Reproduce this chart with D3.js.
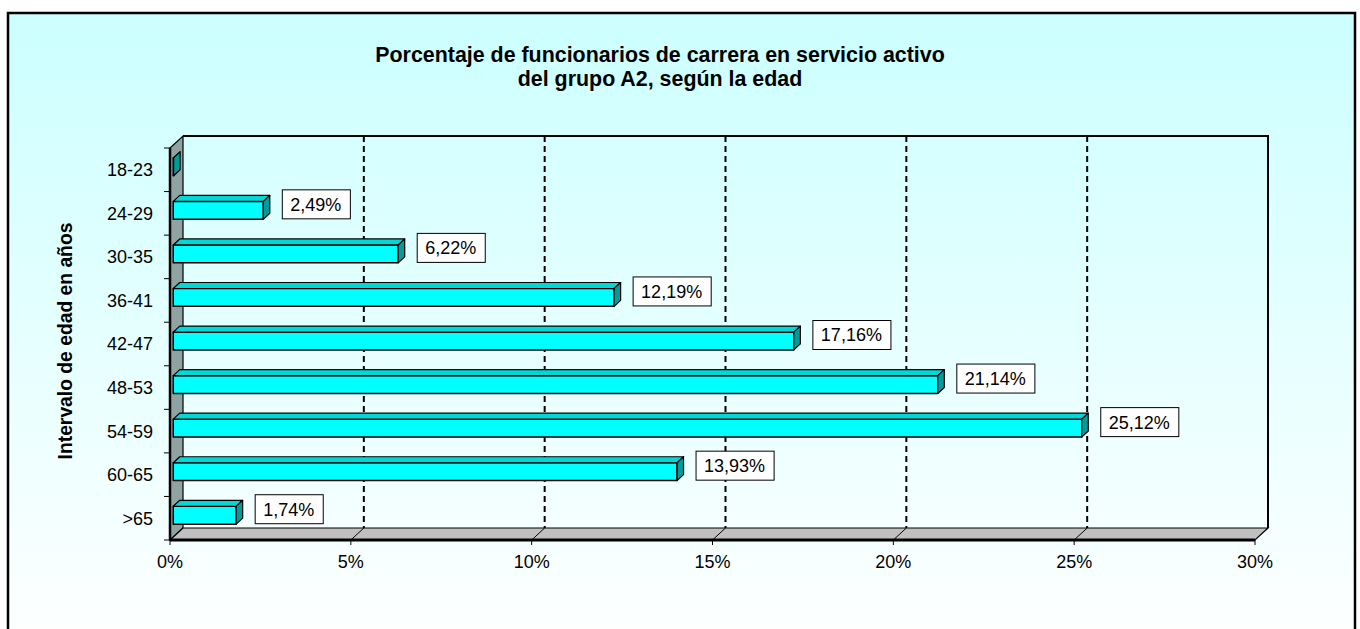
<!DOCTYPE html>
<html>
<head>
<meta charset="utf-8">
<script src="https://cdn.jsdelivr.net/npm/d3@7"></script>
<style>
  html, body { margin: 0; padding: 0; background: #fff; }
  svg { display: block; font-family: Arial, "Liberation Sans", sans-serif; }
</style>
</head>
<body>
<svg id="chart" width="1360" height="629"></svg>
<script>
// ── Data ──────────────────────────────────────────────────────────────────
const categories = ['18-23', '24-29', '30-35', '36-41', '42-47', '48-53', '54-59', '60-65', '>65'];
const values     = [0.01, 2.49, 6.22, 12.19, 17.16, 21.14, 25.12, 13.93, 1.74];
const xTicks     = [0, 5, 10, 15, 20, 25, 30];
const titleLines = ['Porcentaje de funcionarios de carrera en servicio activo', 'del grupo A2, según la edad'];
const yTitle     = 'Intervalo de edad en años';

// ── Setup ─────────────────────────────────────────────────────────────────
const W = 1360, H = 629;
const svg = d3.select('#chart');

const esLocale = d3.formatLocale({ decimal: ',', thousands: '.', grouping: [3], currency: ['', '€'] });
const fmt = v => esLocale.format('.2f')(v) + '%';

// 3D depth offset of the plot box (front -> back)
const DX = 13, DY = -12;
const proj = (x, y, z) => [x + z * DX, y + z * DY];

const x = d3.scaleLinear().domain([0, 30]).range([170, 1255]);
const y = d3.scaleBand().domain(categories).range([148, 540]).padding(0);
const barH = y.bandwidth() * 0.41;
const z0 = 0.25, z1 = 0.75; // bar depth inside the box

// background gradient
const defs = svg.append('defs');
const grad = defs.append('linearGradient').attr('id', 'bg').attr('x1', 0).attr('y1', 0).attr('x2', 0).attr('y2', 1);
grad.append('stop').attr('offset', 0).attr('stop-color', '#ccffff');
grad.append('stop').attr('offset', 1).attr('stop-color', '#ffffff');

svg.append('rect')
  .attr('x', 8).attr('y', 13).attr('width', 1347).attr('height', 640)
  .attr('fill', 'url(#bg)').attr('stroke', '#000').attr('stroke-width', 2.5);

// ── Title ─────────────────────────────────────────────────────────────────
svg.append('text')
  .attr('x', 660).attr('y', 62)
  .attr('text-anchor', 'middle')
  .attr('font-weight', 'bold').attr('font-size', '21.4px')
  .selectAll('tspan').data(titleLines).join('tspan')
  .attr('x', 660).attr('dy', (d, i) => i ? 24 : 0)
  .text(d => d);

// ── 3D box ────────────────────────────────────────────────────────────────
const [xL, xR] = x.range();
const [yT, yB] = y.range();
const line = d3.line();

// left wall
svg.append('path')
  .attr('d', line([proj(xL, yT, 0), proj(xL, yT, 1), proj(xL, yB, 1), proj(xL, yB, 0)]) + 'Z')
  .attr('fill', '#8fa3a3').attr('stroke', '#000').attr('stroke-width', 1.2);
svg.append('line')
  .attr('x1', xL).attr('y1', yT).attr('x2', xL).attr('y2', yB)
  .attr('stroke', '#000').attr('stroke-width', 2.5);

// back wall outline (top + right)
svg.append('path')
  .attr('d', line([proj(xL, yT, 1), proj(xR, yT, 1), proj(xR, yB, 1)]))
  .attr('fill', 'none').attr('stroke', '#000').attr('stroke-width', 2);

// dashed gridlines on the back wall
svg.append('g').selectAll('line')
  .data(xTicks.filter(t => t > 0 && t < 30)).join('line')
  .attr('x1', d => proj(x(d), yT, 1)[0]).attr('y1', proj(0, yT, 1)[1])
  .attr('x2', d => proj(x(d), yB, 1)[0]).attr('y2', proj(0, yB, 1)[1])
  .attr('stroke', '#000').attr('stroke-width', 2).attr('stroke-dasharray', '6,4');

// floor
svg.append('path')
  .attr('d', line([proj(xL, yB, 0), proj(xR, yB, 0), proj(xR, yB, 1), proj(xL, yB, 1)]) + 'Z')
  .attr('fill', '#c0c0c0').attr('stroke', '#000').attr('stroke-width', 1.2);
svg.append('g').selectAll('line')
  .data(xTicks.filter(t => t > 0 && t < 30)).join('line')
  .attr('x1', d => x(d)).attr('y1', yB)
  .attr('x2', d => proj(x(d), yB, 1)[0]).attr('y2', proj(0, yB, 1)[1])
  .attr('stroke', '#000').attr('stroke-width', 1);
svg.append('line')
  .attr('x1', xL).attr('y1', yB).attr('x2', xR).attr('y2', yB)
  .attr('stroke', '#000').attr('stroke-width', 3);

// ── Axes ──────────────────────────────────────────────────────────────────
const xAxis = svg.append('g');
xAxis.selectAll('line').data(xTicks).join('line')
  .attr('x1', d => x(d)).attr('x2', d => x(d))
  .attr('y1', yB).attr('y2', yB + 5)
  .attr('stroke', '#000').attr('stroke-width', 1);
xAxis.selectAll('text').data(xTicks).join('text')
  .attr('x', d => x(d)).attr('y', yB + 28)
  .attr('text-anchor', 'middle').attr('font-size', '18px')
  .text(d => d + '%');

const yAxis = svg.append('g');
yAxis.selectAll('line').data(d3.range(categories.length + 1)).join('line')
  .attr('x1', xL - 6).attr('x2', xL)
  .attr('y1', i => yT + i * y.bandwidth()).attr('y2', i => yT + i * y.bandwidth())
  .attr('stroke', '#000').attr('stroke-width', 1);
yAxis.selectAll('text').data(categories).join('text')
  .attr('x', 153).attr('y', d => y(d) + y.bandwidth() / 2)
  .attr('dy', '0.36em')
  .attr('text-anchor', 'end').attr('font-size', '18px')
  .text(d => d);

svg.append('text')
  .attr('transform', 'translate(72,341) rotate(-90)')
  .attr('text-anchor', 'middle')
  .attr('font-weight', 'bold').attr('font-size', '19.3px')
  .text(yTitle);

// ── Bars ──────────────────────────────────────────────────────────────────
const rows = categories.map((c, i) => ({ cat: c, v: values[i] }));
const bars = svg.append('g').selectAll('g').data(rows).join('g');

function barFaces(d) {
  const cy = y(d.cat) + y.bandwidth() / 2;
  const top = cy - barH / 2, bot = cy + barH / 2;
  const xa = x(0), xb = x(d.v);
  return {
    front: [proj(xa, top, z0), proj(xb, top, z0), proj(xb, bot, z0), proj(xa, bot, z0)],
    top:   [proj(xa, top, z0), proj(xb, top, z0), proj(xb, top, z1), proj(xa, top, z1)],
    right: [proj(xb, top, z0), proj(xb, top, z1), proj(xb, bot, z1), proj(xb, bot, z0)]
  };
}

bars.append('path').attr('d', d => line(barFaces(d).front) + 'Z')
  .attr('fill', '#00ffff').attr('stroke', '#000').attr('stroke-width', 1.5).attr('stroke-linejoin', 'round');
bars.append('path').attr('d', d => line(barFaces(d).top) + 'Z')
  .attr('fill', '#00d8d8').attr('stroke', '#000').attr('stroke-width', 1.2).attr('stroke-linejoin', 'round');
bars.append('path').attr('d', d => line(barFaces(d).right) + 'Z')
  .attr('fill', '#009c9c').attr('stroke', '#000').attr('stroke-width', 1.2).attr('stroke-linejoin', 'round');

// ── Data labels ───────────────────────────────────────────────────────────
const labels = svg.append('g').selectAll('g')
  .data(rows.filter(d => d.v >= 0.5)).join('g');

labels.each(function(d) {
  const g = d3.select(this);
  const cy = y(d.cat) + y.bandwidth() / 2 + z0 * DY - 6;
  const left = proj(x(d.v), 0, z1)[0] + 12;
  const rect = g.append('rect').attr('fill', '#fff').attr('stroke', '#000').attr('stroke-width', 1);
  const t = g.append('text')
    .attr('y', cy).attr('dy', '0.36em')
    .attr('text-anchor', 'middle').attr('font-size', '18px')
    .text(fmt(d.v));
  const tw = t.node().getComputedTextLength();
  const bw = tw + 17, bh = 29;
  t.attr('x', left + bw / 2);
  rect.attr('x', left + 0.5).attr('y', cy - bh / 2).attr('width', bw).attr('height', bh);
});
</script>
</body>
</html>
